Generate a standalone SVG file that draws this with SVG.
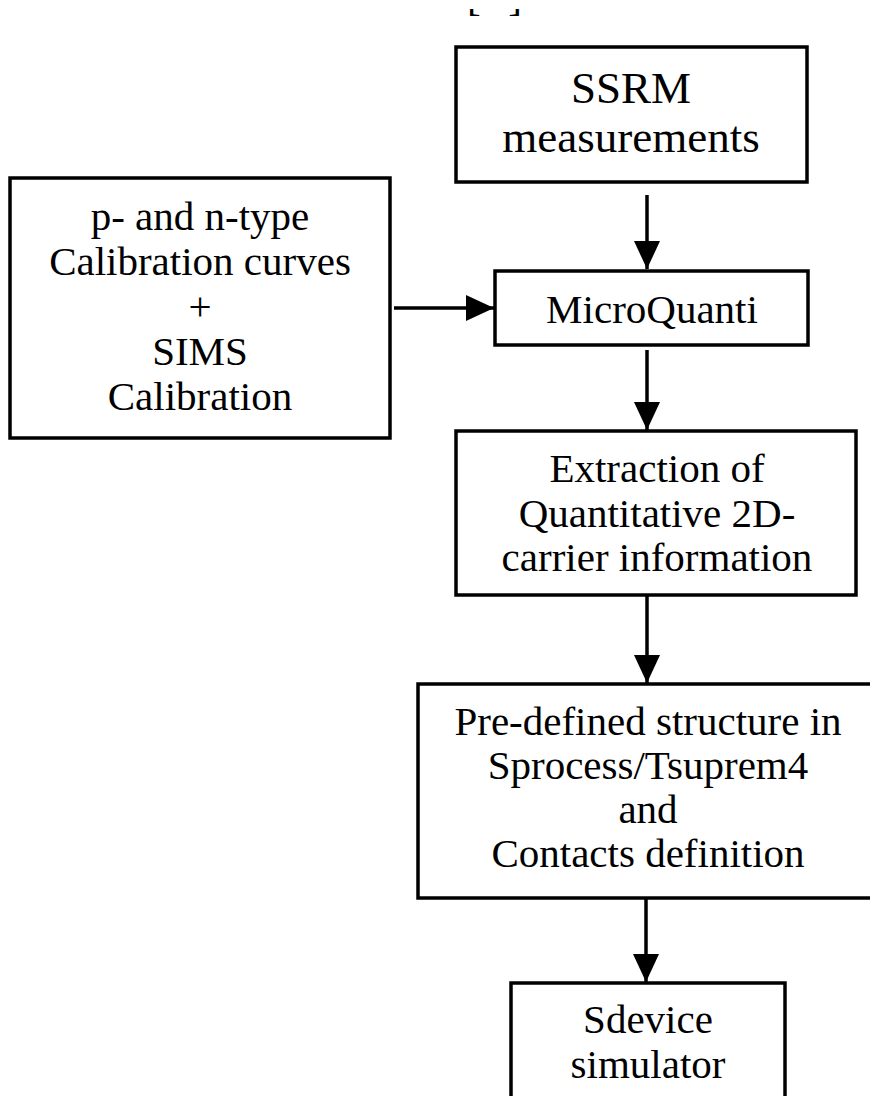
<svg xmlns="http://www.w3.org/2000/svg" width="870" height="1096" viewBox="0 0 870 1096">
<style>
.box{fill:#fff;stroke:#000;stroke-width:3.5}
.t{font-family:"Liberation Serif","Times New Roman",serif;font-size:41px;fill:#000;text-anchor:middle}
.big{font-size:45px}
.c{stroke:#000;stroke-width:3.5;fill:none}
</style>
<defs>
<marker id="ah" viewBox="0 0 28 26" refX="28" refY="13" markerWidth="28" markerHeight="26" markerUnits="userSpaceOnUse" orient="auto">
<path d="M0,0 L28,13 L0,26 Z" fill="#000"/>
</marker>
<clipPath id="topclip"><rect x="440" y="9" width="110" height="14"/></clipPath>
</defs>
<rect width="870" height="1096" fill="#fff"/>
<g id="header" clip-path="url(#topclip)">
<text class="t" x="467" y="11" style="text-anchor:start" textLength="55" lengthAdjust="spacing">[ ]</text>
</g>
<g id="ssrm">
<rect class="box" x="456" y="47" width="351" height="135"/>
<text class="t big" x="631" y="103">SSRM</text>
<text class="t big" x="631" y="152">measurements</text>
</g>
<g id="calib">
<rect class="box" x="10" y="178" width="380" height="260"/>
<text class="t" x="200" y="230">p- and n-type</text>
<text class="t" x="200" y="275">Calibration curves</text>
<text class="t" x="200" y="320">+</text>
<text class="t" x="200" y="365">SIMS</text>
<text class="t" x="200" y="410">Calibration</text>
</g>
<g id="microquanti">
<rect class="box" x="495" y="271" width="313" height="74"/>
<text class="t" x="652" y="323">MicroQuanti</text>
</g>
<g id="extraction">
<rect class="box" x="456" y="431" width="400" height="164"/>
<text class="t" x="657" y="482">Extraction of</text>
<text class="t" x="657" y="527">Quantitative 2D-</text>
<text class="t" x="657" y="571">carrier information</text>
</g>
<g id="predefined">
<rect class="box" x="418" y="684" width="460" height="214"/>
<text class="t" x="648" y="735">Pre-defined structure in</text>
<text class="t" x="648" y="779">Sprocess/Tsuprem4</text>
<text class="t" x="648" y="823">and</text>
<text class="t" x="648" y="867">Contacts definition</text>
</g>
<g id="sdevice">
<rect class="box" x="511" y="983" width="274" height="130"/>
<text class="t" x="648" y="1033">Sdevice</text>
<text class="t" x="648" y="1078">simulator</text>
</g>
<g id="connectors">
<line class="c" x1="647" y1="195" x2="647" y2="269" marker-end="url(#ah)"/>
<line class="c" x1="394" y1="308" x2="494" y2="308" marker-end="url(#ah)"/>
<line class="c" x1="647" y1="350" x2="647" y2="430" marker-end="url(#ah)"/>
<line class="c" x1="647" y1="596" x2="647" y2="683" marker-end="url(#ah)"/>
<line class="c" x1="646" y1="899" x2="646" y2="982" marker-end="url(#ah)"/>
</g>
</svg>
